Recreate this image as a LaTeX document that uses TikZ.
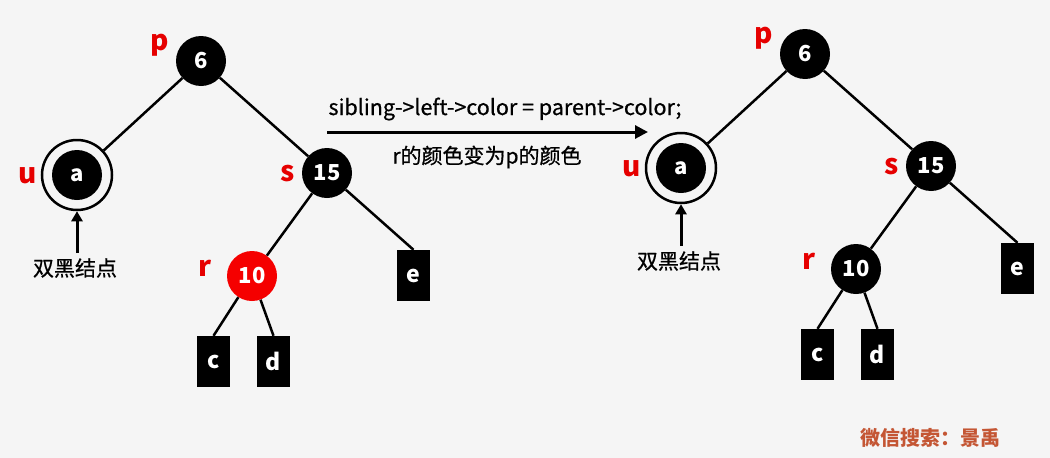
\documentclass[tikz,border=0pt]{standalone}
\usepackage{fontspec}
\setmainfont{Noto Sans CJK SC}
\newfontfamily\medfont[FakeBold=0.7]{Noto Sans CJK SC}
\usetikzlibrary{arrows.meta}
\definecolor{bg}{RGB}{245,245,245}
\definecolor{lblred}{RGB}{230,0,0}
\definecolor{nodered}{RGB}{245,0,0}
\definecolor{wm}{RGB}{196,86,52}
\tikzset{
  rbnode/.style={circle, fill=black, minimum size=50pt, inner sep=0pt, text=white, font=\bfseries\fontsize{22}{22}\selectfont},
  rednode/.style={rbnode, fill=nodered},
  ring/.style={circle, draw=black, line width=2.5pt, fill=bg, minimum size=70pt, inner sep=0pt},
  leaf/.style={rectangle, fill=black, minimum width=33pt, minimum height=51pt, inner sep=0pt, text=white, font=\bfseries\fontsize{23}{23}\selectfont},
  lbl/.style={text=lblred, font=\bfseries\fontsize{28}{28}\selectfont, inner sep=0pt},
  edge/.style={line width=2.5pt},
  uparrow/.style={line width=3pt, -{Triangle[length=10pt,width=11pt]}},
  captext/.style={font=\medfont\fontsize{21.5}{21.5}\selectfont, inner sep=0pt},
  cjktext/.style={font=\medfont\fontsize{21}{21}\selectfont, inner sep=0pt},
}
\begin{document}
\begin{tikzpicture}[x=1pt,y=-1pt]
\fill[bg] (0,0) rectangle (1050,458);
\useasboundingbox (0,0) rectangle (1050,458);
% ---------- left tree ----------
\node[rbnode] (p1) at (201,61) {6};
\node[ring] (u1) at (77,175) {};
\node[rbnode] (a1) at (77,175) {a};
\node[rbnode] (s1) at (327,173) {15};
\node[rednode] (r1) at (252,276) {10};
\node[leaf] (c1) at (213.5,361.5) {c};
\node[leaf] (d1) at (273.5,361.5) {d};
\node[leaf] (e1) at (413.5,275.5) {e};
\draw[edge] (p1) -- (u1);
\draw[edge] (p1) -- (s1);
\draw[edge] (s1) -- (r1);
\draw[edge] (s1) -- (e1.north);
\draw[edge] (r1) -- (c1.north);
\draw[edge] (r1) -- (d1.north);
\node[lbl] (lp1) at (160,45) {p};
\node[lbl] (lu1) at (28,176) {u};
\node[lbl] (ls1) at (288,174) {s};
\node[lbl] (lr1) at (205,268) {r};
\node[cjktext] (db1) at (75,268) {双黑结点};
\coordinate (t1) at (77,253);
\draw[uparrow] (t1) -- (u1.south);
% ---------- middle arrow ----------
\coordinate (m1) at (327,132);
\coordinate (m2) at (648,132);
\draw[line width=3pt, -{Triangle[length=13pt,width=13pt]}] (m1) -- (m2);
\node[captext] (code) at (505,109) {sibling->left->color = parent->color;};
\node[cjktext] (cn) at (487,157) {r的颜色变为p的颜色};
% ---------- right tree ----------
\begin{scope}[shift={(604,-7)}]
\node[rbnode] (p2) at (201,61) {6};
\node[ring] (u2) at (77,175) {};
\node[rbnode] (a2) at (77,175) {a};
\node[rbnode] (s2) at (327,173) {15};
\node[rbnode] (r2) at (252,276) {10};
\node[leaf] (c2) at (213.5,361.5) {c};
\node[leaf] (d2) at (273.5,361.5) {d};
\node[leaf] (e2) at (413.5,275.5) {e};
\draw[edge] (p2) -- (u2);
\draw[edge] (p2) -- (s2);
\draw[edge] (s2) -- (r2);
\draw[edge] (s2) -- (e2.north);
\draw[edge] (r2) -- (c2.north);
\draw[edge] (r2) -- (d2.north);
\node[lbl] (lp2) at (160,45) {p};
\node[lbl] (lu2) at (28,176) {u};
\node[lbl] (ls2) at (288,174) {s};
\node[lbl] (lr2) at (205,268) {r};
\node[cjktext] (db2) at (75,268) {双黑结点};
\coordinate (t2) at (77,253);
\draw[uparrow] (t2) -- (u2.south);
\end{scope}
% ---------- watermark ----------
\node[text=wm, font=\bfseries\fontsize{20}{20}\selectfont, inner sep=0pt] (wmk) at (930,438) {微信搜索：景禹};
\end{tikzpicture}
\end{document}
